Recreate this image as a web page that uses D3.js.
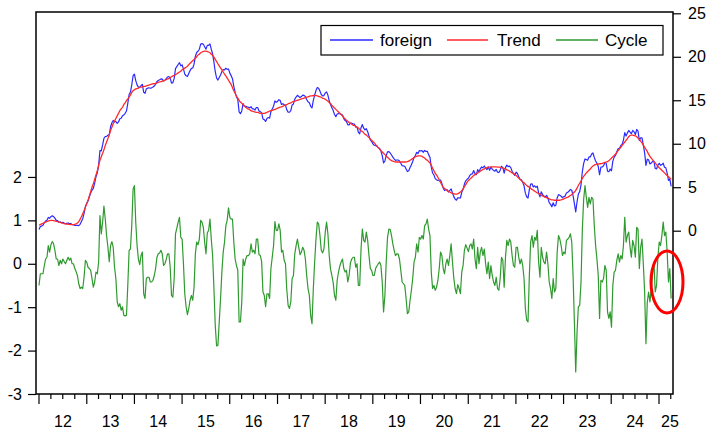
<!DOCTYPE html>
<html><head><meta charset="utf-8">
<script src="https://cdn.jsdelivr.net/npm/d3@7"></script>
<style>html,body{margin:0;padding:0;background:#fff;}svg{display:block;}</style>
</head><body>
<svg id="chart" width="707" height="432"></svg>
<script>
// ---- data ----
const seriesNames = ["foreign", "Trend", "Cycle"];
const firstObs = "2012-01-01", lastObs = "2025-04-04"; // evenly spaced observations
const leftTicks = [-3, -2, -1, 0, 1, 2];
const rightTicks = [0, 5, 10, 15, 20, 25];
const yearLabels = ["12","13","14","15","16","17","18","19","20","21","22","23","24","25"];

// HP cycle (left axis)
const cycle = [
-0.50,-0.23,-0.23,-0.23,-0.04,0.11,0.15,0.42,0.27,0.44,
0.51,0.46,0.31,0.11,0.11,-0.04,0.08,0.00,0.11,0.05,
0.00,0.08,0.15,0.08,0.13,0.00,0.00,-0.11,-0.18,-0.27,
-0.46,-0.57,-0.54,-0.57,-0.31,0.08,0.04,-0.08,-0.11,-0.15,
-0.34,-0.54,-0.42,-0.19,-0.23,0.04,1.11,0.69,0.96,1.33,
1.03,0.65,0.38,0.05,0.42,0.51,0.38,-0.08,-0.34,-0.87,
-0.99,-0.92,-1.07,-0.99,-1.19,-1.20,-1.19,-0.50,0.31,0.34,
0.88,1.72,1.80,0.96,0.42,0.11,-0.02,0.19,
0.27,-0.69,-0.80,-0.34,-0.31,-0.31,-0.42,-0.42,-0.38,-0.27,
-0.11,0.15,0.23,0.25,0.31,0.23,-0.04,0.00,0.10,0.23,
0.23,-0.08,-0.73,-0.77,-0.34,0.69,0.82,0.96,1.07,0.61,
0.57,0.00,-0.69,-0.99,-1.17,-1.03,-0.84,-0.73,-0.84,-0.54,
0.23,0.50,0.44,0.57,1.00,0.96,0.84,0.50,0.23,0.71,
0.77,1.03,0.57,0.19,-0.57,-1.42,-1.89,-1.88,-1.34,-0.80,
-0.19,0.27,0.50,0.88,1.00,1.29,1.07,1.03,1.03,0.50,
0.11,-0.04,-0.15,-1.34,-1.34,-0.88,0.11,-0.04,0.11,0.19,
0.19,0.23,0.46,0.27,0.31,0.23,0.57,0.57,0.21,0.19,
0.05,-0.65,-0.73,-0.99,-0.69,-0.69,-0.80,-0.11,0.15,0.42,
0.97,0.77,0.77,0.92,0.77,0.27,0.31,0.08,0.00,-0.61,
-0.96,-1.03,-0.88,-0.34,-0.27,0.23,0.42,0.57,0.38,0.21,
0.27,0.38,0.31,0.11,-0.27,-0.57,-0.73,-1.19,-1.38,-0.57,
0.04,0.57,0.96,0.92,0.65,0.31,0.25,0.34,0.73,0.96,
0.69,0.19,-0.13,-0.27,-0.44,-0.73,-0.84,-0.38,-0.19,-0.05,
0.04,0.11,-0.11,-0.19,-0.15,-0.42,-0.27,0.02,0.11,0.15,
0.15,-0.08,0.00,-0.50,-0.50,0.34,0.80,0.54,0.50,0.73,
0.54,0.19,-0.11,-0.15,-0.27,-0.27,-0.11,-0.05,0.00,0.04,
-0.04,-0.42,-1.11,-0.73,0.04,0.61,0.80,0.79,0.65,0.46,
0.31,0.19,0.23,0.23,0.11,-0.15,-0.42,-0.46,-0.50,-0.80,
-1.15,-1.11,-0.84,-0.61,-0.34,0.04,0.15,0.46,0.27,0.61,
0.57,0.65,0.57,0.88,0.92,1.03,0.80,0.65,-0.19,-0.57,
-0.50,-0.61,-0.54,-0.38,-0.11,0.27,0.19,-0.11,-0.23,0.00,
0.11,-0.04,0.19,0.46,0.04,-0.33,-0.57,-0.69,-0.48,-0.57,
-0.69,-0.19,-0.04,0.31,0.44,0.36,0.28,0.42,0.46,0.34,
0.57,0.11,-0.11,0.38,0.00,0.27,0.38,0.19,0.34,0.00,
-0.23,0.04,-0.34,-0.04,-0.27,-0.42,-0.50,-0.31,-0.57,-0.61,
-0.34,0.15,0.08,-0.54,0.15,0.54,0.42,0.57,0.50,0.19,
-0.04,-0.08,0.38,0.38,0.15,0.00,0.11,-0.04,-0.34,-1.03,
-1.30,-1.34,-0.27,0.50,0.65,0.38,0.61,0.54,0.77,0.04,
-0.31,0.38,0.15,0.04,0.00,0.27,0.00,-0.42,-0.57,-0.80,
-0.34,-0.65,-0.57,0.27,0.65,0.57,0.42,0.19,0.27,0.23,
0.54,0.57,0.61,0.69,0.50,-0.27,-1.34,-2.49,-1.57,-0.99,
-0.96,-0.42,0.80,1.49,1.80,1.53,1.30,1.53,1.38,1.53,
1.49,0.88,0.42,0.11,-0.27,-1.26,-0.38,-0.42,-0.34,-0.04,
-0.15,-1.11,-1.26,-1.11,-1.46,-0.50,-0.19,-0.15,0.08,0.23,
0.04,0.19,0.11,0.42,1.07,0.50,0.65,0.73,0.38,0.15,
0.54,0.42,0.15,0.84,0.80,-0.11,0.38,0.57,0.00,-0.65,
-1.84,-0.88,-0.65,-0.88,-0.57,-0.19,0.04,-0.65,-0.50,0.15,
0.50,0.42,0.65,0.96,0.65,0.73,0.27,-0.42,-0.11,-0.80
];

// HP trend (right axis)
const trend = [
0.63,0.70,0.78,0.86,0.94,1.00,1.06,1.11,1.16,1.19,
1.19,1.17,1.13,1.08,1.04,0.99,0.95,0.90,0.86,0.82,
0.79,0.76,0.74,0.72,0.71,0.70,0.70,0.72,0.78,0.88,
1.05,1.30,1.60,1.95,2.30,2.70,3.10,3.50,4.00,4.50,
5.00,5.40,5.90,6.40,6.90,7.50,8.10,8.50,8.90,9.30,
9.80,10.20,10.60,11.00,11.50,11.90,12.30,12.60,12.90,13.20,
13.50,13.80,14.00,14.20,14.50,14.70,14.95,15.15,15.35,15.60,
15.90,16.10,16.20,16.30,16.35,16.40,16.50,16.50,
16.55,16.60,16.60,16.65,16.70,16.75,16.80,16.85,16.90,16.90,
16.95,17.00,17.05,17.10,17.15,17.20,17.25,17.30,17.40,17.45,
17.50,17.60,17.70,17.80,17.85,17.95,18.05,18.15,18.25,18.35,
18.50,18.60,18.70,18.80,18.90,19.10,19.25,19.40,19.55,19.70,
19.85,20.00,20.20,20.30,20.45,20.55,20.60,20.65,20.65,20.60,
20.55,20.45,20.30,20.15,19.95,19.70,19.45,19.20,18.95,18.70,
18.50,18.25,18.00,17.80,17.55,17.30,17.05,16.80,16.45,16.10,
15.80,15.45,15.25,15.00,14.80,14.65,14.50,14.35,14.20,14.05,
14.00,13.90,13.80,13.75,13.70,13.65,13.60,13.60,13.55,13.50,
13.50,13.50,13.50,13.55,13.60,13.70,13.75,13.80,13.85,13.90,
13.95,14.00,14.10,14.15,14.20,14.25,14.30,14.40,14.45,14.50,
14.60,14.65,14.70,14.80,14.85,14.90,14.95,15.00,15.05,15.10,
15.15,15.20,15.25,15.30,15.35,15.40,15.45,15.50,15.50,15.55,
15.55,15.55,15.50,15.45,15.40,15.35,15.25,15.20,15.10,15.00,
14.90,14.75,14.60,14.40,14.25,14.10,13.95,13.80,13.65,13.50,
13.35,13.20,13.00,12.85,12.70,12.60,12.45,12.35,12.25,12.15,
12.10,12.00,11.90,11.80,11.65,11.50,11.40,11.25,11.10,11.00,
10.85,10.70,10.55,10.40,10.25,10.10,9.90,9.75,9.55,9.40,
9.20,9.05,8.90,8.75,8.60,8.45,8.30,8.15,8.05,8.00,
7.95,7.90,7.90,7.90,7.90,7.90,7.90,7.90,7.90,7.90,
7.95,8.00,8.10,8.20,8.30,8.40,8.50,8.55,8.60,8.60,
8.60,8.55,8.45,8.35,8.20,8.10,7.95,7.80,7.50,7.20,
6.90,6.60,6.40,6.15,5.85,5.55,5.25,5.00,4.85,4.75,
4.60,4.50,4.45,4.35,4.30,4.25,4.20,4.20,4.25,4.35,
4.45,4.60,4.80,5.05,5.30,5.55,5.75,5.90,6.05,6.20,
6.35,6.45,6.55,6.65,6.75,6.85,6.95,7.05,7.10,7.20,
7.25,7.30,7.30,7.35,7.35,7.35,7.35,7.35,7.30,7.30,
7.30,7.25,7.20,7.15,7.10,7.00,6.95,6.85,6.75,6.65,
6.60,6.45,6.35,6.20,6.05,5.90,5.75,5.60,5.50,5.35,
5.20,5.10,5.00,4.85,4.75,4.65,4.55,4.45,4.35,4.30,
4.20,4.10,4.00,3.95,3.85,3.80,3.75,3.65,3.60,3.55,
3.55,3.50,3.50,3.50,3.50,3.50,3.55,3.60,3.65,3.75,
3.80,3.85,3.95,4.05,4.15,4.30,4.45,4.65,4.90,5.20,
5.45,5.70,6.00,6.25,6.45,6.65,6.80,6.95,7.10,7.30,
7.45,7.55,7.60,7.65,7.65,7.70,7.70,7.75,7.80,7.85,
7.90,7.95,8.05,8.20,8.35,8.50,8.65,8.80,9.00,9.20,
9.40,9.60,9.80,10.00,10.20,10.40,10.60,10.80,10.95,11.00,
11.00,10.95,10.90,10.80,10.65,10.50,10.30,10.10,9.85,9.60,
9.35,9.10,8.80,8.55,8.35,8.15,7.95,7.80,7.60,7.40,
7.25,7.10,6.95,6.80,6.65,6.50,6.35,6.20,6.05,5.90
];

// ---- build table (foreign = trend + cycle, the HP identity) ----
const t0 = new Date(firstObs + "T00:00:00Z").getTime();
const t1 = new Date(lastObs + "T00:00:00Z").getTime();
const N = cycle.length;
const rows = cycle.map((c, i) => ({
  date: new Date(t0 + i * (t1 - t0) / (N - 1)),
  cycle: c,
  trend: trend[i],
  foreign: trend[i] + c
}));

// ---- layout ----
const svg = d3.select("#chart");
const L = 36, R = 673, T = 12, B = 394;
const FONT = "'Liberation Sans', Arial, sans-serif";

const x = d3.scaleUtc()
  .domain([new Date(Date.UTC(2012,0,1)), new Date(Date.UTC(2025,0,1))])
  .range([39, 659]);
const yL = d3.scaleLinear().domain([-3, 5.8]).range([B, T]);
const yR = d3.scaleLinear().domain([-18.78, 25.15]).range([B, T]);

const colors = {foreign: "#2a2aff", Trend: "#ff2a2a", Cycle: "#2f9a2f"};

// series
const lineCycle = d3.line().x(d => x(d.date)).y(d => yL(d.cycle));
const lineForeign = d3.line().x(d => x(d.date)).y(d => yR(d.foreign));
const lineTrend = d3.line().x(d => x(d.date)).y(d => yR(d.trend)).curve(d3.curveMonotoneX);

svg.append("path").datum(rows).attr("d", lineCycle)
  .attr("fill","none").attr("stroke",colors.Cycle).attr("stroke-width",1.2).attr("stroke-linejoin","round");
svg.append("path").datum(rows).attr("d", lineForeign)
  .attr("fill","none").attr("stroke",colors.foreign).attr("stroke-width",1.2).attr("stroke-linejoin","round");
svg.append("path").datum(rows).attr("d", lineTrend)
  .attr("fill","none").attr("stroke",colors.Trend).attr("stroke-width",1.3).attr("stroke-linejoin","round");

// frame
svg.append("rect").attr("x",L).attr("y",T).attr("width",R-L).attr("height",B-T)
  .attr("fill","none").attr("stroke","#000").attr("stroke-width",1.5);

// left axis
const gL = svg.append("g").attr("transform",`translate(${L},0)`)
  .call(d3.axisLeft(yL).tickValues(leftTicks).tickSize(8).tickPadding(6).tickFormat(d => String(d)));
gL.select(".domain").remove();
gL.selectAll("line").attr("stroke","#000").attr("stroke-width",1.2);
gL.selectAll("text").attr("font-family",FONT).attr("font-size",16).attr("fill","#000");

// right axis
const gR = svg.append("g").attr("transform",`translate(${R},0)`)
  .call(d3.axisRight(yR).tickValues(rightTicks).tickSize(8).tickPadding(7).tickFormat(d => String(d)));
gR.select(".domain").remove();
gR.selectAll("line").attr("stroke","#000").attr("stroke-width",1.2);
gR.selectAll("text").attr("font-family",FONT).attr("font-size",16).attr("fill","#000");

// bottom axis: quarterly ticks, longer at years
const dEnd = x.invert(R + 0.5);
const qTicks = d3.utcMonth.every(3).range(x.invert(L), dEnd);
svg.append("g").selectAll("line").data(qTicks).join("line")
  .attr("x1", d => x(d)).attr("x2", d => x(d))
  .attr("y1", B).attr("y2", d => d.getUTCMonth() === 0 ? B + 10 : B + 5)
  .attr("stroke","#000").attr("stroke-width",1.2);

svg.append("g").selectAll("text").data(yearLabels).join("text")
  .each(function(lbl, i) {
    const ys = new Date(Date.UTC(2012 + i, 0, 1));
    const ye = new Date(Date.UTC(2013 + i, 0, 1));
    const s = d3.select(this);
    if (ye <= dEnd) {
      s.attr("x", (x(ys) + x(ye)) / 2).attr("text-anchor","middle");
    } else {
      s.attr("x", x(ys) + 2).attr("text-anchor","start");
    }
  })
  .attr("y", 427)
  .attr("font-family",FONT).attr("font-size",16).attr("fill","#000")
  .text(d => d);

// legend
const leg = svg.append("g");
leg.append("rect").attr("x",321).attr("y",25.5).attr("width",342).attr("height",29.5)
  .attr("fill","#fff").attr("stroke","#000").attr("stroke-width",1.2);
const legItems = [
  {name: seriesNames[0], x1: 330, x2: 373, tx: 380},
  {name: seriesNames[1], x1: 447, x2: 488, tx: 497},
  {name: seriesNames[2], x1: 556, x2: 598, tx: 605}
];
legItems.forEach(it => {
  leg.append("line").attr("x1",it.x1).attr("x2",it.x2).attr("y1",40).attr("y2",40)
    .attr("stroke",colors[it.name]).attr("stroke-width",1.6);
  leg.append("text").attr("x",it.tx).attr("y",46).attr("font-family",FONT)
    .attr("font-size",17).attr("fill","#000").text(it.name);
});

// red highlight ellipse
svg.append("ellipse").attr("cx",667).attr("cy",282).attr("rx",16).attr("ry",31)
  .attr("fill","none").attr("stroke","#f00").attr("stroke-width",3);
</script>
</body></html>
